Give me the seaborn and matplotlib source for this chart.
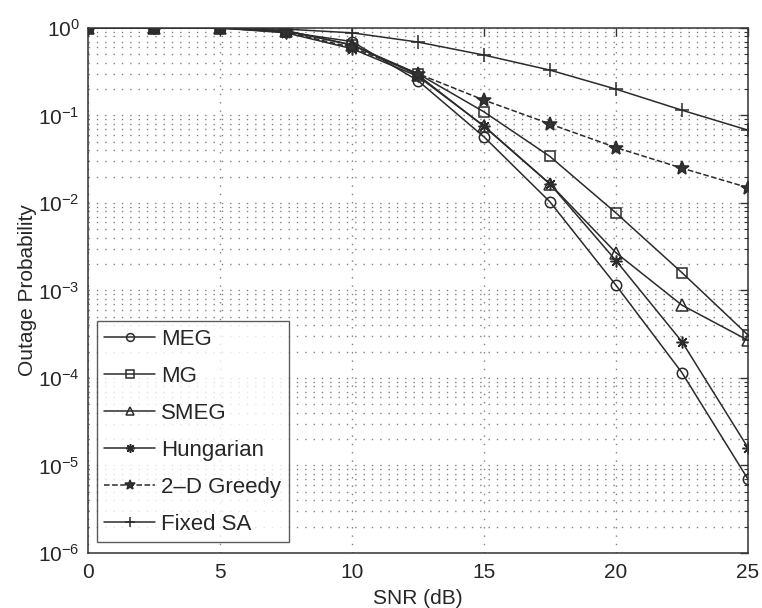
import numpy as np
import pandas as pd
import matplotlib
matplotlib.use("Agg")
import matplotlib.pyplot as plt
import seaborn as sns
from matplotlib.ticker import LogLocator, NullFormatter

snr = [0, 2.5, 5, 7.5, 10, 12.5, 15, 17.5, 20, 22.5, 25]

meg = [1.0, 1.0, 1.0, 0.90, 0.70, 0.25, 0.057, 0.0103, 1.15e-3, 1.15e-4, 7.0e-6]
mg = [1.0, 1.0, 1.0, 0.93, 0.64, 0.30, 0.11, 0.034, 7.7e-3, 1.6e-3, 3.1e-4]
smeg = [1.0, 1.0, 1.0, 0.93, 0.64, 0.29, 0.075, 0.0165, 2.7e-3, 6.8e-4, 2.7e-4]
hungarian = [1.0, 1.0, 1.0, 0.88, 0.58, 0.28, 0.076, 0.0165, 2.2e-3, 2.6e-4, 1.6e-5]
greedy = [1.0, 1.0, 1.0, 0.90, 0.60, 0.30, 0.15, 0.080, 0.043, 0.025, 0.015]
fixed_sa = [1.0, 1.0, 1.0, 0.97, 0.88, 0.69, 0.49, 0.33, 0.20, 0.115, 0.068]

labels = ["MEG", "MG", "SMEG", "Hungarian", "2\u2013D Greedy", "Fixed SA"]
series = [meg, mg, smeg, hungarian, greedy, fixed_sa]

sns.set_style("white")
plt.rcParams["font.family"] = ["Liberation Sans", "DejaVu Sans"]
plt.rcParams["mathtext.fontset"] = "custom"
plt.rcParams["mathtext.rm"] = "Liberation Sans"

styles = {
    "MEG": dict(marker="o", ms=7.5, mfc="none", ls="-"),
    "MG": dict(marker="s", ms=7, mfc="none", ls="-"),
    "SMEG": dict(marker="^", ms=8, mfc="none", ls="-"),
    "Hungarian": dict(marker=(8, 2, 0), ms=8.5, mfc="none", ls="-"),
    "2\u2013D Greedy": dict(marker="*", ms=10, mfc="#333333", ls="--"),
    "Fixed SA": dict(marker="+", ms=10, mfc="none", ls="-"),
}

df = pd.DataFrame({"snr": snr})
for lab, vals in zip(labels, series):
    df[lab] = vals
long = df.melt(id_vars="snr", var_name="scheme", value_name="p")

fig = plt.figure(figsize=(7.62, 6.08), dpi=100)
ax = fig.add_axes([0.1155, 0.0905, 0.866, 0.8635])

line_color = "#2b2b2b"
for lab in labels:
    st = styles[lab]
    sub = long[long["scheme"] == lab]
    sns.lineplot(data=sub, x="snr", y="p", ax=ax, color=line_color, lw=1.1,
                 linestyle=st["ls"], marker=st["marker"], markersize=st["ms"],
                 markerfacecolor=st["mfc"], markeredgecolor=line_color,
                 markeredgewidth=1.1, label=lab,
                 dashes=(5, 4) if st["ls"] == "--" else "")

ax.set_yscale("log")
ax.set_xlim(0, 25)
ax.set_ylim(1e-6, 1)
ax.set_xticks([0, 5, 10, 15, 20, 25])
ax.yaxis.set_major_locator(LogLocator(base=10, numticks=10))
ax.yaxis.set_minor_locator(LogLocator(base=10, subs=np.arange(2, 10), numticks=20))
ax.yaxis.set_minor_formatter(NullFormatter())

grid_style = dict(linestyle=(0, (1, 5)), color="#808080", lw=1.0)
ax.grid(True, which="major", axis="both", **grid_style)
ax.grid(True, which="minor", axis="y", **grid_style)

ax.tick_params(which="both", direction="in", top=True, right=True, labelsize=15,
               color="#333333")
ax.tick_params(axis="x", which="major", pad=7)
ax.tick_params(axis="y", which="major", pad=6)
ax.tick_params(which="major", length=6, width=1)
ax.tick_params(which="minor", length=3, width=0.8)
for sp in ax.spines.values():
    sp.set_color("#333333")
    sp.set_linewidth(1.1)

ax.set_xlabel("SNR (dB)", fontsize=15, labelpad=5)
ax.set_ylabel("Outage Probability", fontsize=15, labelpad=1)

leg = ax.legend(loc="lower left", bbox_to_anchor=(0.013, 0.02), fontsize=16,
                frameon=True, fancybox=False, edgecolor="#333333",
                handlelength=2.3, labelspacing=0.72, borderpad=0.35,
                handletextpad=0.25, borderaxespad=0, markerscale=0.75)
leg.get_frame().set_linewidth(1.0)

fig.savefig("out.png", dpi=100, facecolor="white")
